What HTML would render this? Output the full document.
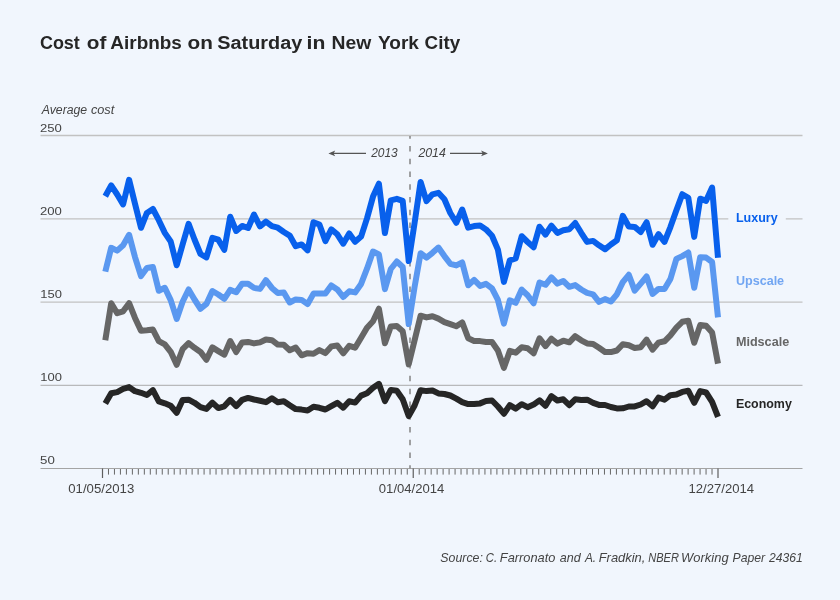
<!DOCTYPE html>
<html lang="en"><head><meta charset="utf-8"><title>Cost of Airbnbs on Saturday in New York City</title>
<style>
html,body{margin:0;padding:0;background:#f1f6fd;}
body{width:840px;height:600px;overflow:hidden;font-family:"Liberation Sans",sans-serif;}
svg{display:block;}
text{font-family:"Liberation Sans",sans-serif;}
.t{font-size:18px;font-weight:bold;fill:#262626;}
.ax{font-size:12px;fill:#444;}
.it{font-size:12px;font-style:italic;fill:#444;}
.lb{font-size:12px;font-weight:bold;}
.ln{fill:none;stroke-width:6;stroke-linejoin:round;stroke-linecap:butt;}
</style></head><body>
<svg width="840" height="600" viewBox="0 0 840 600">
<rect width="840" height="600" fill="#f1f6fd"/>
<g stroke="#c2c2c2" stroke-width="1.3">
<line x1="40.5" y1="135.5" x2="802.5" y2="135.5"/>
<line x1="40.5" y1="218.8" x2="802.5" y2="218.8"/>
<line x1="40.5" y1="302.1" x2="802.5" y2="302.1"/>
</g>
<line x1="40.5" y1="385.3" x2="802.5" y2="385.3" stroke="#ababab" stroke-width="1"/>
<line x1="40.5" y1="468.5" x2="802.5" y2="468.5" stroke="#a4a4a4" stroke-width="1"/>
<line x1="102.50" y1="468.5" x2="102.50" y2="478" stroke="#5e5e5e" stroke-width="1.2"/>
<line x1="108.48" y1="469" x2="108.48" y2="474.6" stroke="#666" stroke-width="1"/>
<line x1="114.45" y1="469" x2="114.45" y2="474.6" stroke="#666" stroke-width="1"/>
<line x1="120.43" y1="469" x2="120.43" y2="474.6" stroke="#666" stroke-width="1"/>
<line x1="126.40" y1="469" x2="126.40" y2="474.6" stroke="#666" stroke-width="1"/>
<line x1="132.38" y1="469" x2="132.38" y2="474.6" stroke="#666" stroke-width="1"/>
<line x1="138.35" y1="469" x2="138.35" y2="474.6" stroke="#666" stroke-width="1"/>
<line x1="144.33" y1="469" x2="144.33" y2="474.6" stroke="#666" stroke-width="1"/>
<line x1="150.31" y1="469" x2="150.31" y2="474.6" stroke="#666" stroke-width="1"/>
<line x1="156.28" y1="469" x2="156.28" y2="474.6" stroke="#666" stroke-width="1"/>
<line x1="162.26" y1="469" x2="162.26" y2="474.6" stroke="#666" stroke-width="1"/>
<line x1="168.23" y1="469" x2="168.23" y2="474.6" stroke="#666" stroke-width="1"/>
<line x1="174.21" y1="469" x2="174.21" y2="474.6" stroke="#666" stroke-width="1"/>
<line x1="180.18" y1="469" x2="180.18" y2="474.6" stroke="#666" stroke-width="1"/>
<line x1="186.16" y1="469" x2="186.16" y2="474.6" stroke="#666" stroke-width="1"/>
<line x1="192.14" y1="469" x2="192.14" y2="474.6" stroke="#666" stroke-width="1"/>
<line x1="198.11" y1="469" x2="198.11" y2="474.6" stroke="#666" stroke-width="1"/>
<line x1="204.09" y1="469" x2="204.09" y2="474.6" stroke="#666" stroke-width="1"/>
<line x1="210.06" y1="469" x2="210.06" y2="474.6" stroke="#666" stroke-width="1"/>
<line x1="216.04" y1="469" x2="216.04" y2="474.6" stroke="#666" stroke-width="1"/>
<line x1="222.01" y1="469" x2="222.01" y2="474.6" stroke="#666" stroke-width="1"/>
<line x1="227.99" y1="469" x2="227.99" y2="474.6" stroke="#666" stroke-width="1"/>
<line x1="233.97" y1="469" x2="233.97" y2="474.6" stroke="#666" stroke-width="1"/>
<line x1="239.94" y1="469" x2="239.94" y2="474.6" stroke="#666" stroke-width="1"/>
<line x1="245.92" y1="469" x2="245.92" y2="474.6" stroke="#666" stroke-width="1"/>
<line x1="251.89" y1="469" x2="251.89" y2="474.6" stroke="#666" stroke-width="1"/>
<line x1="257.87" y1="469" x2="257.87" y2="474.6" stroke="#666" stroke-width="1"/>
<line x1="263.84" y1="469" x2="263.84" y2="474.6" stroke="#666" stroke-width="1"/>
<line x1="269.82" y1="469" x2="269.82" y2="474.6" stroke="#666" stroke-width="1"/>
<line x1="275.80" y1="469" x2="275.80" y2="474.6" stroke="#666" stroke-width="1"/>
<line x1="281.77" y1="469" x2="281.77" y2="474.6" stroke="#666" stroke-width="1"/>
<line x1="287.75" y1="469" x2="287.75" y2="474.6" stroke="#666" stroke-width="1"/>
<line x1="293.72" y1="469" x2="293.72" y2="474.6" stroke="#666" stroke-width="1"/>
<line x1="299.70" y1="469" x2="299.70" y2="474.6" stroke="#666" stroke-width="1"/>
<line x1="305.67" y1="469" x2="305.67" y2="474.6" stroke="#666" stroke-width="1"/>
<line x1="311.65" y1="469" x2="311.65" y2="474.6" stroke="#666" stroke-width="1"/>
<line x1="317.63" y1="469" x2="317.63" y2="474.6" stroke="#666" stroke-width="1"/>
<line x1="323.60" y1="469" x2="323.60" y2="474.6" stroke="#666" stroke-width="1"/>
<line x1="329.58" y1="469" x2="329.58" y2="474.6" stroke="#666" stroke-width="1"/>
<line x1="335.55" y1="469" x2="335.55" y2="474.6" stroke="#666" stroke-width="1"/>
<line x1="341.53" y1="469" x2="341.53" y2="474.6" stroke="#666" stroke-width="1"/>
<line x1="347.50" y1="469" x2="347.50" y2="474.6" stroke="#666" stroke-width="1"/>
<line x1="353.48" y1="469" x2="353.48" y2="474.6" stroke="#666" stroke-width="1"/>
<line x1="359.46" y1="469" x2="359.46" y2="474.6" stroke="#666" stroke-width="1"/>
<line x1="365.43" y1="469" x2="365.43" y2="474.6" stroke="#666" stroke-width="1"/>
<line x1="371.41" y1="469" x2="371.41" y2="474.6" stroke="#666" stroke-width="1"/>
<line x1="377.38" y1="469" x2="377.38" y2="474.6" stroke="#666" stroke-width="1"/>
<line x1="383.36" y1="469" x2="383.36" y2="474.6" stroke="#666" stroke-width="1"/>
<line x1="389.33" y1="469" x2="389.33" y2="474.6" stroke="#666" stroke-width="1"/>
<line x1="395.31" y1="469" x2="395.31" y2="474.6" stroke="#666" stroke-width="1"/>
<line x1="401.29" y1="469" x2="401.29" y2="474.6" stroke="#666" stroke-width="1"/>
<line x1="407.26" y1="469" x2="407.26" y2="474.6" stroke="#666" stroke-width="1"/>
<line x1="413.24" y1="468.5" x2="413.24" y2="478" stroke="#5e5e5e" stroke-width="1.2"/>
<line x1="419.21" y1="469" x2="419.21" y2="474.6" stroke="#666" stroke-width="1"/>
<line x1="425.19" y1="469" x2="425.19" y2="474.6" stroke="#666" stroke-width="1"/>
<line x1="431.17" y1="469" x2="431.17" y2="474.6" stroke="#666" stroke-width="1"/>
<line x1="437.14" y1="469" x2="437.14" y2="474.6" stroke="#666" stroke-width="1"/>
<line x1="443.12" y1="469" x2="443.12" y2="474.6" stroke="#666" stroke-width="1"/>
<line x1="449.09" y1="469" x2="449.09" y2="474.6" stroke="#666" stroke-width="1"/>
<line x1="455.07" y1="469" x2="455.07" y2="474.6" stroke="#666" stroke-width="1"/>
<line x1="461.04" y1="469" x2="461.04" y2="474.6" stroke="#666" stroke-width="1"/>
<line x1="467.02" y1="469" x2="467.02" y2="474.6" stroke="#666" stroke-width="1"/>
<line x1="473.00" y1="469" x2="473.00" y2="474.6" stroke="#666" stroke-width="1"/>
<line x1="478.97" y1="469" x2="478.97" y2="474.6" stroke="#666" stroke-width="1"/>
<line x1="484.95" y1="469" x2="484.95" y2="474.6" stroke="#666" stroke-width="1"/>
<line x1="490.92" y1="469" x2="490.92" y2="474.6" stroke="#666" stroke-width="1"/>
<line x1="496.90" y1="469" x2="496.90" y2="474.6" stroke="#666" stroke-width="1"/>
<line x1="502.87" y1="469" x2="502.87" y2="474.6" stroke="#666" stroke-width="1"/>
<line x1="508.85" y1="469" x2="508.85" y2="474.6" stroke="#666" stroke-width="1"/>
<line x1="514.83" y1="469" x2="514.83" y2="474.6" stroke="#666" stroke-width="1"/>
<line x1="520.80" y1="469" x2="520.80" y2="474.6" stroke="#666" stroke-width="1"/>
<line x1="526.78" y1="469" x2="526.78" y2="474.6" stroke="#666" stroke-width="1"/>
<line x1="532.75" y1="469" x2="532.75" y2="474.6" stroke="#666" stroke-width="1"/>
<line x1="538.73" y1="469" x2="538.73" y2="474.6" stroke="#666" stroke-width="1"/>
<line x1="544.70" y1="469" x2="544.70" y2="474.6" stroke="#666" stroke-width="1"/>
<line x1="550.68" y1="469" x2="550.68" y2="474.6" stroke="#666" stroke-width="1"/>
<line x1="556.66" y1="469" x2="556.66" y2="474.6" stroke="#666" stroke-width="1"/>
<line x1="562.63" y1="469" x2="562.63" y2="474.6" stroke="#666" stroke-width="1"/>
<line x1="568.61" y1="469" x2="568.61" y2="474.6" stroke="#666" stroke-width="1"/>
<line x1="574.58" y1="469" x2="574.58" y2="474.6" stroke="#666" stroke-width="1"/>
<line x1="580.56" y1="469" x2="580.56" y2="474.6" stroke="#666" stroke-width="1"/>
<line x1="586.53" y1="469" x2="586.53" y2="474.6" stroke="#666" stroke-width="1"/>
<line x1="592.51" y1="469" x2="592.51" y2="474.6" stroke="#666" stroke-width="1"/>
<line x1="598.49" y1="469" x2="598.49" y2="474.6" stroke="#666" stroke-width="1"/>
<line x1="604.46" y1="469" x2="604.46" y2="474.6" stroke="#666" stroke-width="1"/>
<line x1="610.44" y1="469" x2="610.44" y2="474.6" stroke="#666" stroke-width="1"/>
<line x1="616.41" y1="469" x2="616.41" y2="474.6" stroke="#666" stroke-width="1"/>
<line x1="622.39" y1="469" x2="622.39" y2="474.6" stroke="#666" stroke-width="1"/>
<line x1="628.36" y1="469" x2="628.36" y2="474.6" stroke="#666" stroke-width="1"/>
<line x1="634.34" y1="469" x2="634.34" y2="474.6" stroke="#666" stroke-width="1"/>
<line x1="640.32" y1="469" x2="640.32" y2="474.6" stroke="#666" stroke-width="1"/>
<line x1="646.29" y1="469" x2="646.29" y2="474.6" stroke="#666" stroke-width="1"/>
<line x1="652.27" y1="469" x2="652.27" y2="474.6" stroke="#666" stroke-width="1"/>
<line x1="658.24" y1="469" x2="658.24" y2="474.6" stroke="#666" stroke-width="1"/>
<line x1="664.22" y1="469" x2="664.22" y2="474.6" stroke="#666" stroke-width="1"/>
<line x1="670.19" y1="469" x2="670.19" y2="474.6" stroke="#666" stroke-width="1"/>
<line x1="676.17" y1="469" x2="676.17" y2="474.6" stroke="#666" stroke-width="1"/>
<line x1="682.15" y1="469" x2="682.15" y2="474.6" stroke="#666" stroke-width="1"/>
<line x1="688.12" y1="469" x2="688.12" y2="474.6" stroke="#666" stroke-width="1"/>
<line x1="694.10" y1="469" x2="694.10" y2="474.6" stroke="#666" stroke-width="1"/>
<line x1="700.07" y1="469" x2="700.07" y2="474.6" stroke="#666" stroke-width="1"/>
<line x1="706.05" y1="469" x2="706.05" y2="474.6" stroke="#666" stroke-width="1"/>
<line x1="712.02" y1="469" x2="712.02" y2="474.6" stroke="#666" stroke-width="1"/>
<line x1="718.00" y1="468.5" x2="718.00" y2="478" stroke="#5e5e5e" stroke-width="1.2"/>
<line x1="410" y1="136" x2="410" y2="468.5" stroke="#8a8a8a" stroke-width="1.6" stroke-dasharray="5.5 7.27" stroke-dashoffset="2.77"/>
<polyline class="ln" stroke="#262626" points="105.3,403.5 111.2,393.3 117.2,392.1 123.1,388.9 129.1,387.1 135.0,391.2 141.0,392.8 146.9,395.0 152.9,390.2 158.8,401.4 164.8,403.3 170.7,405.7 176.7,412.7 182.6,399.9 188.6,399.7 194.5,402.8 200.5,407.1 206.4,408.9 212.4,402.6 218.3,408.1 224.3,406.3 230.2,399.9 236.2,406.1 242.1,399.9 248.1,397.9 254.0,399.5 260.0,400.8 265.9,402.2 271.9,398.3 277.8,402.2 283.8,401.3 289.7,405.3 295.7,409.1 301.6,409.6 307.6,410.5 313.5,406.8 319.4,407.8 325.4,409.5 331.3,406.1 337.3,402.8 343.2,407.7 349.2,401.3 355.1,402.6 361.1,395.6 367.0,393.2 373.0,387.7 378.9,383.8 384.9,401.1 390.8,389.9 396.8,390.8 402.7,399.2 408.7,416.1 414.6,405.5 420.6,390.2 426.5,391.1 432.5,390.5 438.4,393.4 444.4,394.0 450.3,395.5 456.3,398.6 462.2,402.1 468.2,404.1 474.1,404.0 480.1,403.4 486.0,401.0 492.0,400.5 497.9,406.5 503.9,413.7 509.8,405.2 515.7,408.6 521.7,404.2 527.6,407.2 533.6,404.6 539.5,400.3 545.5,405.8 551.4,396.1 557.4,400.5 563.3,399.3 569.3,405.2 575.2,399.3 581.2,400.0 587.1,399.7 593.1,402.8 599.0,404.9 605.0,405.0 610.9,407.0 616.9,408.4 622.8,408.3 628.8,406.5 634.7,406.4 640.7,404.5 646.6,401.2 652.6,406.3 658.5,397.6 664.5,399.7 670.4,395.2 676.4,394.6 682.3,391.9 688.3,390.8 694.2,402.8 700.2,391.1 706.1,392.5 712.1,401.8 718.0,416.9"/>
<polyline class="ln" stroke="#666666" points="105.3,340.3 111.2,303.2 117.2,313.2 123.1,311.3 129.1,303.2 135.0,317.9 141.0,330.8 146.9,330.3 152.9,329.6 158.8,341.1 164.8,344.3 170.7,351.8 176.7,364.8 182.6,349.2 188.6,343.2 194.5,347.8 200.5,351.9 206.4,359.8 212.4,347.4 218.3,351.1 224.3,354.7 230.2,341.0 236.2,352.0 242.1,342.5 248.1,341.9 254.0,343.4 260.0,342.4 265.9,339.5 271.9,340.2 277.8,344.6 283.8,344.8 289.7,350.3 295.7,347.6 301.6,355.3 307.6,353.2 313.5,353.7 319.4,350.1 325.4,353.1 331.3,346.4 337.3,345.5 343.2,353.3 349.2,345.8 355.1,347.7 361.1,337.8 367.0,327.7 373.0,321.3 378.9,308.7 384.9,343.3 390.8,326.4 396.8,326.0 402.7,331.2 408.7,364.4 414.6,340.3 420.6,315.7 426.5,317.4 432.5,316.2 438.4,318.6 444.4,322.1 450.3,324.1 456.3,326.3 462.2,322.4 468.2,338.3 474.1,340.9 480.1,341.1 486.0,342.0 492.0,342.0 497.9,350.5 503.9,367.8 509.8,350.9 515.7,352.7 521.7,347.3 527.6,348.2 533.6,353.3 539.5,338.3 545.5,346.1 551.4,338.7 557.4,343.6 563.3,340.7 569.3,342.3 575.2,336.2 581.2,340.3 587.1,343.4 593.1,343.9 599.0,347.8 605.0,352.0 610.9,352.1 616.9,350.5 622.8,344.2 628.8,345.2 634.7,347.9 640.7,347.2 646.6,339.7 652.6,349.6 658.5,342.6 664.5,341.3 670.4,335.4 676.4,327.7 682.3,321.8 688.3,320.8 694.2,342.8 700.2,325.1 706.1,325.8 712.1,332.5 718.0,363.6"/>
<polyline class="ln" stroke="#5a98f0" points="105.3,271.6 111.2,247.8 117.2,250.6 123.1,245.2 129.1,234.8 135.0,257.1 141.0,276.1 146.9,268.0 152.9,267.0 158.8,290.8 164.8,287.8 170.7,300.1 176.7,318.9 182.6,301.8 188.6,289.5 194.5,299.5 200.5,308.8 206.4,303.9 212.4,291.0 218.3,294.5 224.3,298.8 230.2,289.9 236.2,292.2 242.1,283.8 248.1,283.8 254.0,287.9 260.0,288.9 265.9,280.2 271.9,287.9 277.8,293.0 283.8,292.4 289.7,302.5 295.7,299.4 301.6,299.9 307.6,304.1 313.5,293.6 319.4,293.6 325.4,293.6 331.3,285.4 337.3,289.4 343.2,297.0 349.2,291.3 355.1,292.4 361.1,283.9 367.0,268.7 373.0,251.5 378.9,254.5 384.9,289.1 390.8,269.0 396.8,261.5 402.7,267.0 408.7,324.1 414.6,286.9 420.6,253.2 426.5,257.6 432.5,252.8 438.4,247.6 444.4,256.1 450.3,263.8 456.3,265.4 462.2,262.5 468.2,285.3 474.1,279.9 480.1,285.9 486.0,283.8 492.0,288.3 497.9,299.9 503.9,323.6 509.8,300.3 515.7,302.8 521.7,289.6 527.6,295.2 533.6,303.3 539.5,282.5 545.5,284.8 551.4,277.3 557.4,283.6 563.3,281.0 569.3,286.8 575.2,285.1 581.2,289.5 587.1,292.9 593.1,294.3 599.0,301.9 605.0,299.1 610.9,301.5 616.9,294.3 622.8,282.1 628.8,274.8 634.7,290.6 640.7,283.6 646.6,276.5 652.6,293.9 658.5,288.9 664.5,289.0 670.4,279.0 676.4,258.9 682.3,256.1 688.3,252.5 694.2,287.8 700.2,257.2 706.1,257.6 712.1,262.0 718.0,317.4"/>
<polyline class="ln" stroke="#0860ec" points="105.3,196.3 111.2,185.4 117.2,194.5 123.1,204.4 129.1,179.8 135.0,203.8 141.0,227.8 146.9,212.9 152.9,209.0 158.8,220.2 164.8,232.9 170.7,241.5 176.7,265.3 182.6,244.5 188.6,223.8 194.5,239.5 200.5,254.0 206.4,257.4 212.4,237.8 218.3,239.7 224.3,249.8 230.2,216.7 236.2,231.0 242.1,225.9 248.1,228.0 254.0,214.5 260.0,226.4 265.9,221.7 271.9,226.2 277.8,227.7 283.8,232.0 289.7,235.6 295.7,246.2 301.6,244.4 307.6,250.3 313.5,222.2 319.4,224.5 325.4,241.1 331.3,229.4 337.3,234.3 343.2,243.7 349.2,233.5 355.1,241.8 361.1,236.6 367.0,218.4 373.0,196.6 378.9,183.7 384.9,233.1 390.8,200.3 396.8,198.8 402.7,200.8 408.7,261.1 414.6,222.9 420.6,182.0 426.5,201.1 432.5,194.3 438.4,192.8 444.4,199.2 450.3,213.0 456.3,222.8 462.2,209.5 468.2,227.7 474.1,226.1 480.1,225.6 486.0,229.4 492.0,235.8 497.9,249.6 503.9,281.9 509.8,260.4 515.7,258.5 521.7,236.2 527.6,242.0 533.6,247.3 539.5,226.7 545.5,234.6 551.4,225.7 557.4,232.9 563.3,230.3 569.3,229.2 575.2,223.0 581.2,232.8 587.1,241.9 593.1,240.9 599.0,245.3 605.0,249.3 610.9,244.5 616.9,240.2 622.8,215.8 628.8,226.4 634.7,226.9 640.7,232.0 646.6,222.2 652.6,244.8 658.5,234.2 664.5,241.9 670.4,227.1 676.4,210.2 682.3,194.2 688.3,197.8 694.2,236.9 700.2,198.7 706.1,200.8 712.1,187.5 718.0,257.8"/>
<g stroke="#555" stroke-width="1.1" fill="#555">
<line x1="331" y1="153.4" x2="366" y2="153.4"/>
<path d="M328.4 153.4 L335.2 150.6 L333.6 153.4 L335.2 156.2 Z" stroke="none"/>
<line x1="450" y1="153.4" x2="485.5" y2="153.4"/>
<path d="M487.9 153.4 L481.1 150.6 L482.7 153.4 L481.1 156.2 Z" stroke="none"/>
</g>
<rect x="728.3" y="209" width="57.5" height="18" fill="#f1f6fd"/>
<text y="48.8" fill="#262626" style="font:bold 18px 'Liberation Sans'"><tspan x="39.95" textLength="39.90" lengthAdjust="spacingAndGlyphs">Cost</tspan> <tspan x="86.84" textLength="19.56" lengthAdjust="spacingAndGlyphs">of</tspan> <tspan x="110.37" textLength="71.53" lengthAdjust="spacingAndGlyphs">Airbnbs</tspan> <tspan x="187.54" textLength="25.36" lengthAdjust="spacingAndGlyphs">on</tspan> <tspan x="217.35" textLength="84.92" lengthAdjust="spacingAndGlyphs">Saturday</tspan> <tspan x="306.53" textLength="18.79" lengthAdjust="spacingAndGlyphs">in</tspan> <tspan x="331.56" textLength="39.76" lengthAdjust="spacingAndGlyphs">New</tspan> <tspan x="378.00" textLength="40.96" lengthAdjust="spacingAndGlyphs">York</tspan> <tspan x="424.62" textLength="35.53" lengthAdjust="spacingAndGlyphs">City</tspan></text>
<text y="113.7" fill="#444" style="font:italic 12px 'Liberation Sans'"><tspan x="41.81" textLength="45.38" lengthAdjust="spacingAndGlyphs">Average</tspan> <tspan x="90.90" textLength="23.42" lengthAdjust="spacingAndGlyphs">cost</tspan></text>
<text y="131.6" fill="#444" style="font:11.7px 'Liberation Sans'"><tspan x="40.00" textLength="21.88" lengthAdjust="spacingAndGlyphs">250</tspan></text>
<text y="214.9" fill="#444" style="font:11.7px 'Liberation Sans'"><tspan x="40.00" textLength="21.88" lengthAdjust="spacingAndGlyphs">200</tspan></text>
<text y="298.2" fill="#444" style="font:11.7px 'Liberation Sans'"><tspan x="40.23" textLength="21.64" lengthAdjust="spacingAndGlyphs">150</tspan></text>
<text y="381.4" fill="#444" style="font:11.7px 'Liberation Sans'"><tspan x="40.23" textLength="21.64" lengthAdjust="spacingAndGlyphs">100</tspan></text>
<text y="464.2" fill="#444" style="font:11.7px 'Liberation Sans'"><tspan x="40.13" textLength="14.75" lengthAdjust="spacingAndGlyphs">50</tspan></text>
<text y="492.7" fill="#444" style="font:12px 'Liberation Sans'"><tspan x="68.25" textLength="65.97" lengthAdjust="spacingAndGlyphs">01/05/2013</tspan></text>
<text y="492.7" fill="#444" style="font:12px 'Liberation Sans'"><tspan x="378.85" textLength="65.49" lengthAdjust="spacingAndGlyphs">01/04/2014</tspan></text>
<text y="492.7" fill="#444" style="font:12px 'Liberation Sans'"><tspan x="688.44" textLength="65.60" lengthAdjust="spacingAndGlyphs">12/27/2014</tspan></text>
<text y="156.9" fill="#444" style="font:italic 12px 'Liberation Sans'"><tspan x="371.20" textLength="26.58" lengthAdjust="spacingAndGlyphs">2013</tspan></text>
<text y="156.9" fill="#444" style="font:italic 12px 'Liberation Sans'"><tspan x="418.40" textLength="27.47" lengthAdjust="spacingAndGlyphs">2014</tspan></text>
<text y="221.7" fill="#0860ec" style="font:bold 12px 'Liberation Sans'"><tspan x="735.92" textLength="41.73" lengthAdjust="spacingAndGlyphs">Luxury</tspan></text>
<text y="284.7" fill="#72a6f2" style="font:bold 12px 'Liberation Sans'"><tspan x="735.91" textLength="48.21" lengthAdjust="spacingAndGlyphs">Upscale</tspan></text>
<text y="346.3" fill="#666666" style="font:bold 12px 'Liberation Sans'"><tspan x="735.91" textLength="53.26" lengthAdjust="spacingAndGlyphs">Midscale</tspan></text>
<text y="407.5" fill="#262626" style="font:bold 12px 'Liberation Sans'"><tspan x="735.92" textLength="55.92" lengthAdjust="spacingAndGlyphs">Economy</tspan></text>
<text y="562" fill="#444" style="font:italic 12.4px 'Liberation Sans'"><tspan x="440.33" textLength="42.55" lengthAdjust="spacingAndGlyphs">Source:</tspan> <tspan x="485.83" textLength="11.26" lengthAdjust="spacingAndGlyphs">C.</tspan> <tspan x="499.81" textLength="55.69" lengthAdjust="spacingAndGlyphs">Farronato</tspan> <tspan x="559.75" textLength="20.94" lengthAdjust="spacingAndGlyphs">and</tspan> <tspan x="584.90" textLength="11.23" lengthAdjust="spacingAndGlyphs">A.</tspan> <tspan x="598.71" textLength="46.67" lengthAdjust="spacingAndGlyphs">Fradkin,</tspan> <tspan x="648.27" textLength="30.72" lengthAdjust="spacingAndGlyphs">NBER</tspan> <tspan x="681.12" textLength="47.56" lengthAdjust="spacingAndGlyphs">Working</tspan> <tspan x="732.53" textLength="32.55" lengthAdjust="spacingAndGlyphs">Paper</tspan> <tspan x="769.10" textLength="33.77" lengthAdjust="spacingAndGlyphs">24361</tspan></text>
</svg>
</body></html>
